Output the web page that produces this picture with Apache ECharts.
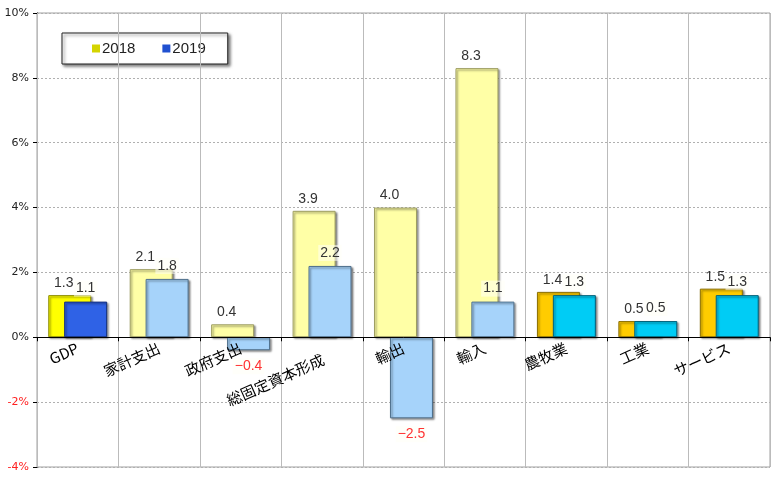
<!DOCTYPE html>
<html>
<head>
    <meta charset="utf-8">
    <title>成長率</title>
    <style>
        html, body { margin: 0; padding: 0; background: #fff; }
        #main { width: 773px; height: 478px; }
    </style>
</head>
<body>
<div id="main"></div>

<script src="https://cdn.jsdelivr.net/npm/echarts@6/dist/echarts.min.js"></script>
<script type="text/javascript">

    // データ
    var categories = ['GDP', '家計支出', '政府支出', '総固定資本形成', '輸出', '輸入', '農牧業', '工業', 'サービス'];
    var seriesNames = ['2018', '2019'];
    var values2018 = [1.3, 2.1, 0.4, 3.9, 4.0, 8.3, 1.4, 0.5, 1.5];
    var values2019 = [1.1, 1.8, -0.4, 2.2, -2.5, 1.1, 1.3, 0.5, 1.3];
    var yTicks = [-4, -2, 0, 2, 4, 6, 8, 10];

    // 色のグループ (GDP / 需要項目 / 産業別)
    var group = [0, 1, 1, 1, 1, 1, 2, 2, 2];
    var colors2018 = ['#FFFF00', '#FFFFA6', '#FFCC00'];
    var colors2019 = ['#2F62E6', '#A6D3FA', '#00CCF5'];
    var edge2018 = ['#8C8C00', '#9C9C60', '#8A6E00'];
    var edge2019 = ['#122E7A', '#4E6F8C', '#00607A'];

    var W = 773, H = 478;
    var gridTop = 13, gridBottom = 11;
    var yMin = yTicks[0], yMax = yTicks[yTicks.length - 1];
    // カテゴリ軸を 0% の位置へ移動
    var zeroShift = (H - gridTop - gridBottom) * (0 - yMin) / (yMax - yMin);

    function barData(vals, fills, edges, dx) {
        return vals.map(function (v, i) {
            var neg = v < 0;
            return {
                value: v,
                itemStyle: {color: fills[group[i]], borderColor: edges[group[i]]},
                label: {
                    position: neg ? 'bottom' : 'top',
                    color: neg ? '#FF3333' : '#333',
                    distance: neg ? 8 : 5,
                    offset: [dx, 0]
                }
            };
        });
    }

    var barCommon = {
        type: 'bar',
        barWidth: 43,
        itemStyle: {
            borderWidth: 1,
            shadowColor: 'rgba(0,0,0,0.45)',
            shadowBlur: 2,
            shadowOffsetX: 1.5,
            shadowOffsetY: 1.5
        },
        label: {
            show: true,
            fontSize: 14,
            fontFamily: 'Liberation Sans, Arial, sans-serif',
            formatter: function (p) { return p.value.toFixed(1).replace('-', '−'); }
        }
    };

    var option = {
        animation: false,
        backgroundColor: '#fff',
        grid: {
            left: 37, right: 3, top: gridTop, bottom: gridBottom,
            show: true, borderColor: '#A0A0A0', borderWidth: 1
        },
        legend: {
            data: seriesNames,
            left: 62,
            top: 33,
            padding: [8, 22, 8, 30],
            itemWidth: 8,
            itemHeight: 8,
            itemGap: 27,
            icon: 'rect',
            backgroundColor: '#fff',
            borderColor: '#222',
            borderWidth: 1,
            shadowColor: 'rgba(0,0,0,0.5)',
            shadowBlur: 3,
            shadowOffsetX: 2,
            shadowOffsetY: 2,
            textStyle: {fontSize: 15, color: '#222', padding: [0, 0, 0, -3], fontFamily: 'Liberation Sans, Arial, sans-serif'}
        },
        xAxis: {
            type: 'category',
            data: categories,
            offset: -zeroShift,
            z: 10,
            axisLine: {onZero: false, lineStyle: {color: '#000', width: 1}},
            axisTick: {show: true, length: 4, lineStyle: {color: '#000'}},
            splitLine: {show: true, lineStyle: {color: '#BBBBBB', width: 1}},
            axisLabel: {
                rotate: 24,
                margin: 10,
                fontSize: 15,
                lineHeight: 22,
                color: '#000',
                interval: 0,
                fontFamily: 'Noto Sans CJK JP, sans-serif',
                // 長いラベルは一段下げる
                formatter: function (v) { return v.length > 6 ? '\n' + v + ' ' : v; }
            }
        },
        yAxis: {
            type: 'value',
            min: yMin,
            max: yMax,
            interval: 2,
            axisLine: {show: true, lineStyle: {color: '#000'}},
            axisTick: {show: true, length: 4, lineStyle: {color: '#000'}},
            splitLine: {show: true, lineStyle: {color: '#B0B0B0', type: [2, 2]}},
            axisLabel: {
                fontSize: 11,
                margin: 8,
                fontFamily: 'DejaVu Sans, sans-serif',
                formatter: function (v) { return v + '%'; },
                color: function (v) { return v < 0 ? '#FF2020' : '#222'; }
            }
        },
        series: [
            echarts.util.merge({
                name: seriesNames[0],
                itemStyle: {color: '#D4D400'},
                data: barData(values2018, colors2018, edge2018, -6)
            }, barCommon),
            echarts.util.merge({
                name: seriesNames[1],
                barGap: '-63%',
                itemStyle: {color: '#2050D0'},
                label: {backgroundColor: 'rgba(255,255,245,0.55)', padding: [1, 2]},
                data: barData(values2019, colors2019, edge2019, 0)
            }, barCommon)
        ]
    };

    var myChart = echarts.init(document.getElementById('main'));
    myChart.setOption(option);

</script>
</body>
</html>
